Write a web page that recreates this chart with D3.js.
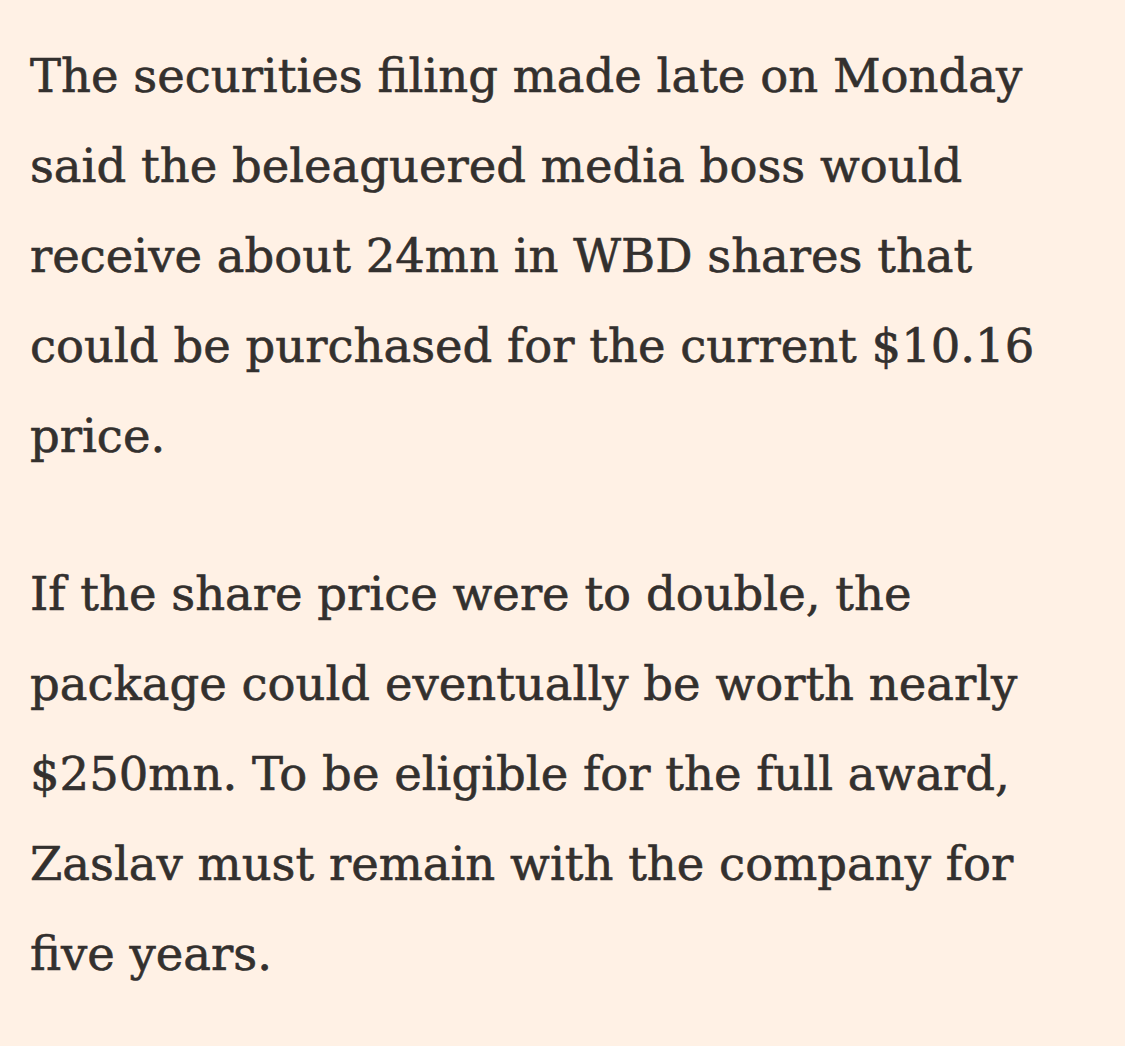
<!DOCTYPE html>
<html>
<head>
<meta charset="utf-8">
<script src="https://cdn.jsdelivr.net/npm/d3@7"></script>
<style>
  body { margin: 0; background: #fff1e5; }
</style>
</head>
<body>
<svg id="page" width="1125" height="1046"></svg>
<script>
// paragraph lines as they wrap in the picture
const paragraphOne = [
  "The securities filing made late on Monday",
  "said the beleaguered media boss would",
  "receive about 24mn in WBD shares that",
  "could be purchased for the current $10.16",
  "price."
];
const paragraphTwo = [
  "If the share price were to double, the",
  "package could eventually be worth nearly",
  "$250mn. To be eligible for the full award,",
  "Zaslav must remain with the company for",
  "five years."
];

const svg = d3.select("#page");
svg.append("rect").attr("width", 1125).attr("height", 1046).attr("fill", "#fff1e5");

const lineHeight = 90;
const paraGap = 68;
const left = 30;
const firstBaseline = 92;

const lines = [];
paragraphOne.forEach((t, i) => lines.push({ t, y: firstBaseline + i * lineHeight }));
const p2Start = firstBaseline + paragraphOne.length * lineHeight + paraGap;
paragraphTwo.forEach((t, i) => lines.push({ t, y: p2Start + i * lineHeight }));

svg.selectAll("text.line")
  .data(lines)
  .enter().append("text")
  .attr("class", "line")
  .attr("x", left)
  .attr("y", d => d.y)
  .attr("fill", "#33302e")
  .attr("stroke", "#33302e")
  .attr("stroke-width", 0.6)
  .style("font-family", "'DejaVu Serif', Georgia, serif")
  .style("font-size", "46.5px")
  .text(d => d.t);
</script>
</body>
</html>
